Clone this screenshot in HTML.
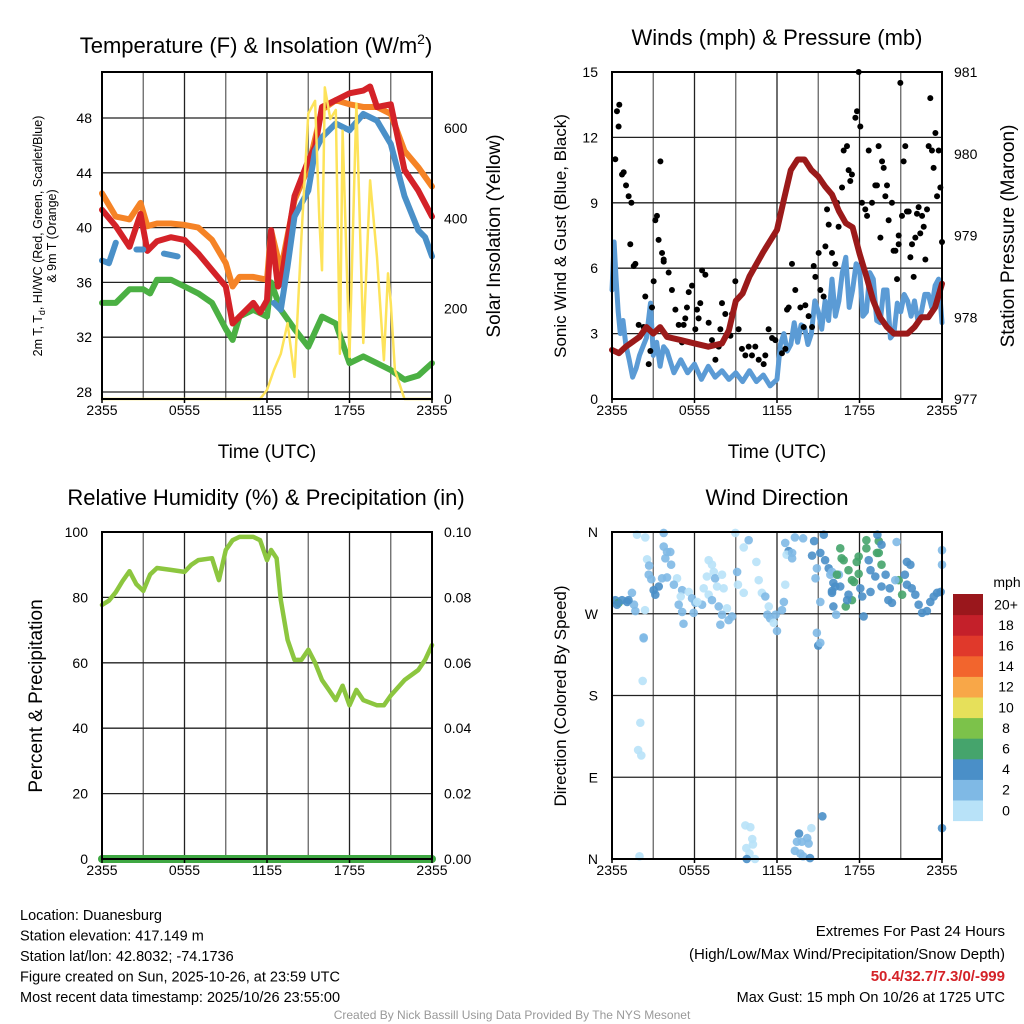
<!DOCTYPE html>
<html><head><meta charset="utf-8"><style>
body{margin:0;background:#fff;}
svg{display:block;font-family:"Liberation Sans",sans-serif;}
</style></head><body>
<svg id="c" width="1024" height="1024" viewBox="0 0 1024 1024" xmlns="http://www.w3.org/2000/svg"></svg>
<script>
// ---------- DATA ----------
const xTickLabels = ["2355","0555","1155","1755","2355"];
const tempTicks = [28,32,36,40,44,48];
const solarTicks = [0,200,400,600];
const windTicks = [0,3,6,9,12,15];
const presTicks = [977,978,979,980,981];
const rhTicks = [0,20,40,60,80,100];
const precipTicks = ["0.00","0.02","0.04","0.06","0.08","0.10"];
const dirLabels = ["N","E","S","W","N"];
const cbLabels = ["0","2","4","6","8","10","12","14","16","18","20+"];
const cbColors = ["#b8e2f8","#7fb9e5","#4a8fc8","#45a46c","#7cc24a","#e6e05a","#f8a748","#f2652d","#e0392b","#c4202a","#9a171c"];

const tempT   = [0,1,2,2.8,3.3,4,5,6,7,8,9,9.5,10,11,11.5,12,12.3,12.8,13,14,15,15.5,16,17,18,19,19.5,20,21,22,23,24];
const tempRed = [41.3,40.1,38.6,41,38.3,39,39.3,39.1,38.1,36.9,35.7,33,33.5,34.5,33.8,34.7,39.8,35.7,36,42.3,44.9,45.9,48.8,49.3,49.8,50,50.3,48.8,49,44.2,42.7,40.8];
const orT  = [0,1,2,2.8,3.3,4,5,6,7,8,9,9.5,10,11,12,12.3,13,14,15,16,17,18,19,20,21,22,23,24];
const orV  = [42.5,40.8,40.6,41.8,40.1,40.3,40.3,40.2,40,39.1,37.4,35.7,36.4,36.4,36.2,39.8,36.9,42,44.4,48.6,49.3,49,48.8,48.8,48.3,45.6,44.4,43];
const blT  = [0,0.5,1,1.5,2.5,3,3.5,4.5,5.5,6,12,12.5,13,13.5,14,15,15.5,16,17,18,19,20,21,22,23,23.5,24];
const blV  = [37.6,37.4,38.9,null,38.4,38.4,null,38.1,37.9,null,null,34.5,34,37.2,40.8,42.7,45.6,46.6,47.6,47.1,48.3,47.8,46.1,42.3,39.8,39.3,37.9];
const grT  = [0,1,2,3,3.5,4,5,6,7,8,9,9.5,10,11,12,12.3,13,14,15,16,17,18,19,20,21,22,23,24];
const grV  = [34.5,34.5,35.5,35.5,35.2,36.2,36.2,35.7,35.2,34.5,32.6,31.8,33.5,34,33.5,36,34,32.6,31.3,33.5,33,30.1,30.6,30.1,29.6,28.9,29.2,30.1];
const solT = [0,11.5,12,12.5,13,13.5,14,14.5,15,15.5,15.8,16,16.2,16.6,17,17.3,17.5,18,18.5,19,19.5,20,20.5,20.8,21,21.3,22,24];
const solV = [0,0,20,64,100,168,49,358,632,660,400,285,690,620,640,100,594,93,654,124,484,314,86,278,212,64,0,0];

const presT = [0,0.5,1,2,2.5,3,3.5,4,5,6,7,8,8.5,9,9.5,10,11,12,12.5,13,13.5,14,14.5,15,15.5,16,16.5,17,17.5,18,18.5,19,19.5,20,20.5,21,21.5,22,22.5,23,23.5,24];
const presV = [977.6,977.56,977.64,977.76,977.88,977.8,977.88,977.76,977.72,977.68,977.64,977.68,977.84,978.2,978.29,978.5,978.8,979.07,979.44,979.8,979.93,979.93,979.8,979.72,979.6,979.5,979.3,979.15,979.1,978.78,978.5,978.2,978.0,977.88,977.8,977.8,977.8,977.88,978.0,978.0,978.12,978.41];
const windT = [0,0.15,0.3,0.45,0.6,0.8,1,1.25,1.5,1.75,2,2.25,2.5,2.8,3,3.25,3.5,3.75,4,4.5,5,5.5,6,6.5,7,7.5,8,8.5,9,9.5,10,10.5,11,11.5,12,12.25,12.5,12.75,13,13.25,13.5,13.75,14,14.25,14.5,14.75,15,15.25,15.5,15.75,16,16.25,16.5,16.75,17,17.25,17.5,17.75,18,18.25,18.5,18.75,19,19.25,19.5,19.75,20,20.25,20.5,20.75,21,21.25,21.5,21.75,22,22.25,22.5,22.75,23,23.25,23.5,23.75,24];
const windV = [5,7.2,5.5,4,3,3.6,2.5,1.8,1,1.4,2,2.4,2.8,4.4,2,2.6,1.5,2.4,2.2,1.2,1.8,1.2,1.6,0.9,1.5,1.0,1.3,0.9,1.2,0.8,1.3,0.8,1.1,0.6,0.9,2.5,3,2.2,2.5,3.5,2.6,3.4,3.3,2.5,3,4.5,4,3.2,4.5,3.6,5.5,3.8,4.5,5.8,6.5,4.2,5,6.2,6,3.8,4,5.8,5.5,3.6,3.5,5,5,2.8,3,4.4,4,4.8,4.5,3.8,4.5,3.6,4,4.8,4.8,4.2,5.2,5.5,3.5];
const gustT = [0.24,0.36,0.53,0.48,0.73,0.85,1.02,1.21,1.41,1.33,1.58,1.70,2.42,1.94,2.30,2.67,2.79,2.91,3.03,3.39,3.15,3.27,3.52,3.64,3.76,3.76,4.12,4.36,4.61,4.85,5.09,5.21,5.33,5.45,5.58,5.82,6.06,6.18,6.30,6.42,6.55,6.79,7.03,7.27,7.52,7.76,7.88,8.0,8.24,8.48,8.61,8.73,8.97,9.21,9.45,9.70,9.94,10.18,10.42,10.67,11.03,11.15,11.39,11.64,11.88,12.36,12.61,12.85,12.73,13.09,13.33,13.70,13.94,14.06,14.30,14.55,14.67,14.79,15.03,15.15,15.39,15.52,15.64,15.76,16.0,16.24,16.36,16.48,16.73,16.85,17.09,17.21,17.33,17.45,17.70,17.82,17.94,18.06,18.18,18.42,18.55,18.67,18.91,19.15,19.27,19.39,19.52,19.64,19.76,19.88,20.0,20.12,20.36,20.48,20.61,20.73,20.85,20.85,20.97,21.09,21.21,21.33,21.45,21.58,21.70,21.82,21.94,22.06,22.18,22.30,22.42,22.55,22.67,22.79,22.91,23.03,23.15,23.27,23.39,23.52,23.64,23.76,23.88,24.0];
const gustV = [11.0,13.2,13.5,12.5,10.3,10.4,9.8,9.3,9.0,7.1,6.1,6.2,4.7,3.4,3.3,1.6,2.2,4.2,5.4,7.3,8.2,8.4,10.9,6.7,6.4,6.3,5.8,5.0,4.1,3.4,2.6,3.4,3.7,4.2,4.9,5.2,3.2,4.1,3.7,4.4,5.9,5.7,3.5,2.7,1.8,2.4,3.2,4.4,3.9,3.0,2.9,3.9,5.4,3.2,2.3,2.0,2.4,2.0,2.4,1.8,1.6,2.0,3.2,2.8,2.7,2.1,2.3,4.2,4.1,6.2,5.0,4.2,3.3,4.3,3.8,3.3,6.1,5.6,6.7,5.0,4.7,7.0,8.7,8.0,6.7,6.2,9.0,7.9,9.7,11.4,11.6,10.5,10.0,10.3,12.9,13.2,15.0,12.5,9.0,8.7,8.4,11.4,9.0,9.8,9.8,11.6,7.4,10.9,10.6,9.3,9.8,8.2,9.0,6.8,6.8,5.5,7.5,7.1,14.5,8.4,10.9,11.6,8.6,8.6,6.5,7.1,5.6,7.4,8.5,8.8,7.6,8.4,7.9,6.4,8.7,11.6,13.8,11.4,10.6,12.2,9.3,11.4,9.7,7.2,8.8,6.7,5.9];

const rhT = [0,0.5,1,1.5,2,2.5,3,3.5,4,5,6,6.5,7,8,8.5,9,9.5,10,11,11.5,12,12.3,12.7,13,13.5,14,14.5,15,15.5,16,16.5,17,17.5,18,18.5,19,20,20.5,21,22,23,23.5,24];
const rhV = [77.7,79,81.6,85,88,84,82,87,89,88.4,87.8,90,91.4,92,85.3,94.5,97.5,98.5,98.5,97.5,91.4,94.5,92,79.2,67,60.9,60.9,64,60,54.7,51.7,48.6,53,47,51.7,48.6,47,47,50,54.7,57.8,60.9,65.4];
const precipT = [0,24];
const precipV = [0,0];

const dirT = [2.3,2.23,2.06,1.9,2.13,2.0,15.0,15.3,24.0,9.7,10.06,10.2,10.25,9.77,10.0,9.8,10.4,13.6,13.45,13.8,14.2,14.3,13.3,13.7,13.9,14.4,14.5,
1.82,2.42,3.76,8.97,9.94,9.58,12.6,13.3,13.9,14.7,15.4,12.85,12.7,13.1,13.1,3.76,4.0,4.24,3.88,4.3,2.55,2.7,2.67,2.86,3.03,3.15,3.4,3.64,4.0,4.73,4.5,5.1,5.58,5.82,6.06,5.0,4.85,5.1,5.2,5.94,6.55,6.2,7.03,7.27,6.9,7.4,7.5,8.0,7.64,8.12,6.67,7.03,7.27,7.76,8.36,8.0,8.48,8.73,7.88,9.1,9.16,9.58,10.5,10.67,10.9,11.15,11.4,11.3,11.5,11.9,11.76,12.0,12.5,12.36,12.6,14.9,14.8,15.15,15.76,16.0,15.88,16.5,16.1,16.24,
16.6,16.7,16.85,17.2,17.45,17.94,17.8,16.36,17.94,18.5,18.5,19.4,19.27,19.4,19.6,20.85,21.1,17.45,17.0,17.6,
14.55,15.15,15.5,16.0,16.6,17.2,17.1,18.06,18.2,18.8,18.67,18.8,19.15,19.9,19.6,20.2,20.1,20.36,20.6,20.7,19.3,19.6,21.45,21.7,21.3,21.45,21.8,22.06,22.3,22.55,22.9,23.15,23.4,23.64,23.9,24.0,24.0,16.1,16.3,18.3,16.0,
0.24,0.48,0.73,1.1,1.45,1.6,1.7,2.4,0.36,1.2,2.3,14.9,15.15];
const dirV = [243,196,150,120,114,3,235,47,34,37,35,22,16,12,6,0,0,28,19,19,23,17,9,6,3,1,34,
357,354,359,359,351,343,348,354,353,350,357,339,335,331,337,344,338,338,331,324,330,323,313,308,296,291,300,309,310,309,302,296,294,287,282,289,280,272,259,271,280,283,329,324,311,316,309,313,300,298,298,291,285,278,276,269,263,267,258,316,302,293,327,307,293,289,278,269,265,269,260,251,283,274,302,320,309,283,320,316,313,313,304,300,
342,331,329,318,307,333,327,313,314,351,342,350,337,337,324,307,291,285,278,305,
334,337,329,295,300,291,285,298,289,294,329,318,311,313,300,298,285,282,307,349,357,346,327,324,313,302,298,291,280,271,273,283,289,293,294,340,324,278,269,267,293,
285,282,285,283,293,280,273,274,280,285,244,249,238];
const dirSpd = [2,0,0,0,0,0,4,4,4,0,0,0,0,0,0,4,0,4,2,2,2,2,2,2,2,4,0,
0,0,2,0,2,0,2,2,2,4,4,4,0,2,2,2,2,2,2,2,0,2,2,2,4,4,4,2,2,0,2,2,0,2,2,0,2,2,2,2,2,0,0,0,0,0,2,0,0,0,0,0,2,2,0,2,2,2,2,2,0,0,0,0,0,2,0,2,2,2,0,2,2,2,0,2,2,2,4,2,2,2,4,4,
6,6,6,6,6,6,6,6,6,6,6,6,6,6,6,6,6,6,6,6,
4,4,4,4,4,4,4,4,4,4,4,4,4,4,4,4,4,4,2,2,4,4,4,4,4,4,4,4,4,4,4,4,4,4,4,2,2,4,2,4,4,
4,6,4,4,2,2,2,0,4,4,2,2,2];

// ---------- DRAW ----------
const NS="http://www.w3.org/2000/svg";
const svg=document.getElementById('c');
function el(tag,attrs,parent){const e=document.createElementNS(NS,tag);for(const k in attrs)e.setAttribute(k,attrs[k]);(parent||svg).appendChild(e);return e;}
function txt(s,x,y,size,anchor,parent,extra){const t=el('text',Object.assign({x:x,y:y,'font-size':size,'text-anchor':anchor||'middle',fill:'#000'},extra||{}),parent);t.textContent=s;return t;}

function makeX(x0,x1){return t=>x0+(x1-x0)*t/24;}
function makeY(y0,y1,v0,v1){return v=>y0+(y1-y0)*(v-v0)/(v1-v0);}

function frame(g,x0,x1,y0,y1){
  for(let i=1;i<8;i++){const x=x0+(x1-x0)*i/8;
    const l=el('line',{x1:x,x2:x,y1:y0,y2:y1,stroke:i%2?'#666':'#222','stroke-width':1.3},g);
    
    }
}
function hgrid(g,x0,x1,ys){ys.forEach(y=>{const l=el('line',{x1:x0,x2:x1,y1:y,y2:y,stroke:'#222','stroke-width':1.3},g);
  
  });}
function border(g,x0,x1,y0,y1){const r=el('rect',{x:x0,y:y0,width:x1-x0,height:y1-y0,fill:'none',stroke:'#000','stroke-width':2},g);
  
  }
function xTicks(g,x0,x1,y1){xTickLabels.forEach((s,i)=>{const x=x0+(x1-x0)*i/4;
  el('line',{x1:x,x2:x,y1:y1,y2:y1+4,stroke:'#000','stroke-width':1.5},g);
  const t=txt(s,x,y1+16,14,'middle',g);
  
  });}
function path(g,T,V,fx,fy,stroke,w,name){let d='',pen=false;
  for(let i=0;i<T.length;i++){if(V[i]===null||V[i]===undefined){pen=false;continue;}
    d+=(pen?'L':'M')+fx(T[i]).toFixed(1)+','+fy(V[i]).toFixed(1);pen=true;}
  const p=el('path',{d:d,fill:'none',stroke:stroke,'stroke-width':w,'stroke-linejoin':'round','stroke-linecap':'round'},g);
  
  
  return p;}

// Panel 1
(function(){
  const g=el('g',{});
  
  
  const x0=102,x1=432,y0=72,y1=399;
  const fx=makeX(x0,x1), fy=makeY(392,118,28,48), fs=makeY(399,128,0,600);
  frame(g,x0,x1,y0,y1);
  hgrid(g,x0,x1,tempTicks.map(fy));
  path(g,grT,grV,fx,fy,'#4bb043',6,'dewpoint-line');
  path(g,orT,orV,fx,fy,'#f58326',6,'9m-temperature-line');
  path(g,tempT,tempRed,fx,fy,'#d42228',6,'2m-temperature-line');
  path(g,blT,blV,fx,fy,'#4a90c8',6,'heat-index-windchill-line');
  path(g,solT,solV,fx,fs,'#fde35a',2.5,'solar-insolation-line');
  border(g,x0,x1,y0,y1);
  tempTicks.forEach(v=>{const t=txt(String(v),x0-10,fy(v)+5,14,'end',g);
    
    });
  solarTicks.forEach(v=>{const t=txt(String(v),x1+12,fs(v)+5,14,'start',g);
    
    });
  xTicks(g,x0,x1,y1);
  const t1=txt('Temperature (F) & Insolation (W/m',256,53,22,'middle',g);
  
  
  const ts=el('tspan',{'font-size':14,dy:-9},t1);ts.textContent='2';
  const ts2=el('tspan',{'font-size':22,dy:9},t1);ts2.textContent=')';
  const xl=txt('Time (UTC)',267,458,19,'middle',g);
  
  
  const yl=txt('2m T, T',0,0,12.5,'middle',g,{transform:'translate(42,236) rotate(-90)'});
  
  
  const sub=el('tspan',{'font-size':9,dy:3},yl);sub.textContent='d';
  const rest=el('tspan',{'font-size':12.5,dy:-3},yl);rest.textContent=', HI/WC (Red, Green, Scarlet/Blue)';
  const yl2=txt('& 9m T (Orange)',0,0,12.5,'middle',g,{transform:'translate(56,236) rotate(-90)'});
  
  
  const yr=txt('Solar Insolation (Yellow)',0,0,19,'middle',g,{transform:'translate(500,236) rotate(-90)'});
  
  
})();

// Panel 2
(function(){
  const g=el('g',{});
  
  
  const x0=612,x1=942,y0=72,y1=399;
  const fx=makeX(x0,x1), fy=makeY(399,72,0,15), fp=makeY(399,72,977,981);
  frame(g,x0,x1,y0,y1);
  hgrid(g,x0,x1,windTicks.map(fy));
  path(g,windT,windV,fx,fy,'#5b9bd5',5,'sonic-wind-line');
  for(let i=0;i<gustT.length;i++){
    const c=el('circle',{cx:fx(gustT[i]),cy:fy(gustV[i]),r:3,fill:'#000'},g);
    
    
  }
  path(g,presT,presV,fx,fp,'#9b1a1a',6,'pressure-line');
  border(g,x0,x1,y0,y1);
  windTicks.forEach(v=>{const t=txt(String(v),x0-14,fy(v)+5,14,'end',g);
    
    });
  presTicks.forEach(v=>{const t=txt(String(v),x1+12,fp(v)+5,14,'start',g);
    
    });
  xTicks(g,x0,x1,y1);
  const t1=txt('Winds (mph) & Pressure (mb)',777,45,22,'middle',g);
  
  
  const xl=txt('Time (UTC)',777,458,19,'middle',g);
  
  
  const yl=txt('Sonic Wind & Gust (Blue, Black)',0,0,17,'middle',g,{transform:'translate(566,236) rotate(-90)'});
  
  
  const yr=txt('Station Pressure (Maroon)',0,0,19,'middle',g,{transform:'translate(1014,236) rotate(-90)'});
  
  
})();

// Panel 3
(function(){
  const g=el('g',{});
  
  
  const x0=102,x1=432,y0=532,y1=859;
  const fx=makeX(x0,x1), fy=makeY(859,532,0,100), fpr=makeY(859,532,0,0.1);
  frame(g,x0,x1,y0,y1);
  hgrid(g,x0,x1,rhTicks.map(fy));
  path(g,rhT,rhV,fx,fy,'#8cc63f',4.5,'relative-humidity-line');
  path(g,precipT,precipV,fx,fpr,'#3fa843',8,'precipitation-line');
  border(g,x0,x1,y0,y1);
  rhTicks.forEach(v=>{const t=txt(String(v),x0-14,fy(v)+5,14,'end',g);
    
    });
  precipTicks.forEach((s,i)=>{const t=txt(s,x1+12,fy(i*20)+5,14,'start',g);
    
    });
  xTicks(g,x0,x1,y1);
  const t1=txt('Relative Humidity (%) & Precipitation (in)',266,505,22,'middle',g);
  
  
  const yl=txt('Percent & Precipitation',0,0,19,'middle',g,{transform:'translate(42,696) rotate(-90)'});
  
  
})();

// Panel 4
(function(){
  const g=el('g',{});
  
  
  const x0=612,x1=942,y0=532,y1=859;
  const fx=makeX(x0,x1), fy=makeY(859,532,0,360);
  frame(g,x0,x1,y0,y1);
  hgrid(g,x0,x1,[0,90,180,270,360].map(fy));
  for(let i=0;i<dirT.length;i++){
    const c=el('circle',{cx:fx(dirT[i]),cy:fy(dirV[i]),r:4.3,fill:cbColors[Math.min(10,Math.floor(dirSpd[i]/2))],'fill-opacity':0.9},g);
    
    
  }
  border(g,x0,x1,y0,y1);
  dirLabels.forEach((s,i)=>{const t=txt(s,x0-14,fy(i*90)+5,14,'end',g);
    
    });
  xTicks(g,x0,x1,y1);
  const t1=txt('Wind Direction',777,505,22,'middle',g);
  
  
  const yl=txt('Direction (Colored By Speed)',0,0,17,'middle',g,{transform:'translate(566,696) rotate(-90)'});
  
  
  const cb=el('g',{},g);
  
  
  const bh=20.6, top=594;
  for(let i=0;i<11;i++){
    const y=top+(10-i)*bh;
    const r=el('rect',{x:953,y:y,width:30,height:bh+0.5,fill:cbColors[i]},cb);
    
    
    const t=txt(cbLabels[i],1006,y+bh/2+5,14,'middle',cb);
    
    
  }
  const u=txt('mph',1007,587,14,'middle',cb);
  
  
})();

// Footer text
(function(){
  const g=el('g',{});
  
  
  const left=["Location: Duanesburg","Station elevation: 417.149 m","Station lat/lon: 42.8032; -74.1736","Figure created on Sun, 2025-10-26, at 23:59 UTC","Most recent data timestamp: 2025/10/26 23:55:00"];
  left.forEach((s,i)=>{const t=txt(s,20,920+i*20.5,14.5,'start',g);
    
    });
  const a=txt('Extremes For Past 24 Hours',1005,936,15,'end',g);
  
  
  const b=txt('(High/Low/Max Wind/Precipitation/Snow Depth)',1005,959,15,'end',g);
  
  
  const c=txt('50.4/32.7/7.3/0/-999',1005,981,15,'end',g,{fill:'#d42228','font-weight':'bold'});
  
  
  const d=txt('Max Gust: 15 mph On 10/26 at 1725 UTC',1005,1002,14.5,'end',g);
  
  
  const e=txt('Created By Nick Bassill Using Data Provided By The NYS Mesonet',512,1019,12,'middle',g,{fill:'#999'});
  
  
})();
</script>
</body></html>
